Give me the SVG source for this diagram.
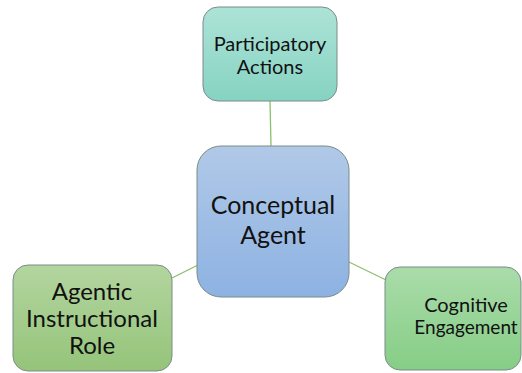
<svg xmlns="http://www.w3.org/2000/svg" width="522" height="373" viewBox="0 0 522 373">
  <defs>
    <linearGradient id="gTeal" x1="0" y1="0" x2="0" y2="1">
      <stop offset="0" stop-color="#ade3d7"/>
      <stop offset="1" stop-color="#86d3c2"/>
    </linearGradient>
    <linearGradient id="gBlue" x1="0" y1="0" x2="0" y2="1">
      <stop offset="0" stop-color="#b1c9e8"/>
      <stop offset="1" stop-color="#8db2e2"/>
    </linearGradient>
    <linearGradient id="gOlive" x1="0" y1="0" x2="0" y2="1">
      <stop offset="0" stop-color="#b3d59f"/>
      <stop offset="1" stop-color="#95c47a"/>
    </linearGradient>
    <linearGradient id="gGreen" x1="0" y1="0" x2="0" y2="1">
      <stop offset="0" stop-color="#aadcaa"/>
      <stop offset="1" stop-color="#86cd86"/>
    </linearGradient>
  </defs>
  <style>
    .box { stroke: #7a8c88; stroke-width: 1; }
    .lbl { font-family: Lato, "Open Sans", sans-serif; fill: #111; text-anchor: middle; }
    .edge { stroke: #8cc070; stroke-width: 1.3; fill: none; }
  </style>
  <rect width="522" height="373" fill="#ffffff"/>
  <g id="connectors">
    <line class="edge" x1="270" y1="101" x2="271" y2="146"/>
    <line class="edge" x1="172" y1="278" x2="198" y2="265"/>
    <line class="edge" x1="349" y1="262" x2="386" y2="280"/>
  </g>
  <g id="participatory-actions">
    <rect class="box" x="203" y="7" width="134" height="94" rx="15" fill="url(#gTeal)"/>
    <text class="lbl" x="270" y="51" font-size="20">Participatory</text>
    <text class="lbl" x="270" y="74" font-size="20">Actions</text>
  </g>
  <g id="conceptual-agent">
    <rect class="box" x="197" y="146" width="152" height="151" rx="24" fill="url(#gBlue)"/>
    <text class="lbl" x="273" y="214" font-size="25">Conceptual</text>
    <text class="lbl" x="273" y="244" font-size="25">Agent</text>
  </g>
  <g id="agentic-instructional-role">
    <rect class="box" x="13" y="265" width="159" height="106" rx="15" fill="url(#gOlive)"/>
    <text class="lbl" x="92" y="300" font-size="24">Agentic</text>
    <text class="lbl" x="92" y="327" font-size="24">Instructional</text>
    <text class="lbl" x="92" y="354" font-size="24">Role</text>
  </g>
  <g id="cognitive-engagement">
    <rect class="box" x="385" y="267" width="136" height="103" rx="15" fill="url(#gGreen)"/>
    <text class="lbl" x="466" y="312" font-size="20">Cognitive</text>
    <text class="lbl" x="466" y="334" font-size="19">Engagement</text>
  </g>
</svg>
